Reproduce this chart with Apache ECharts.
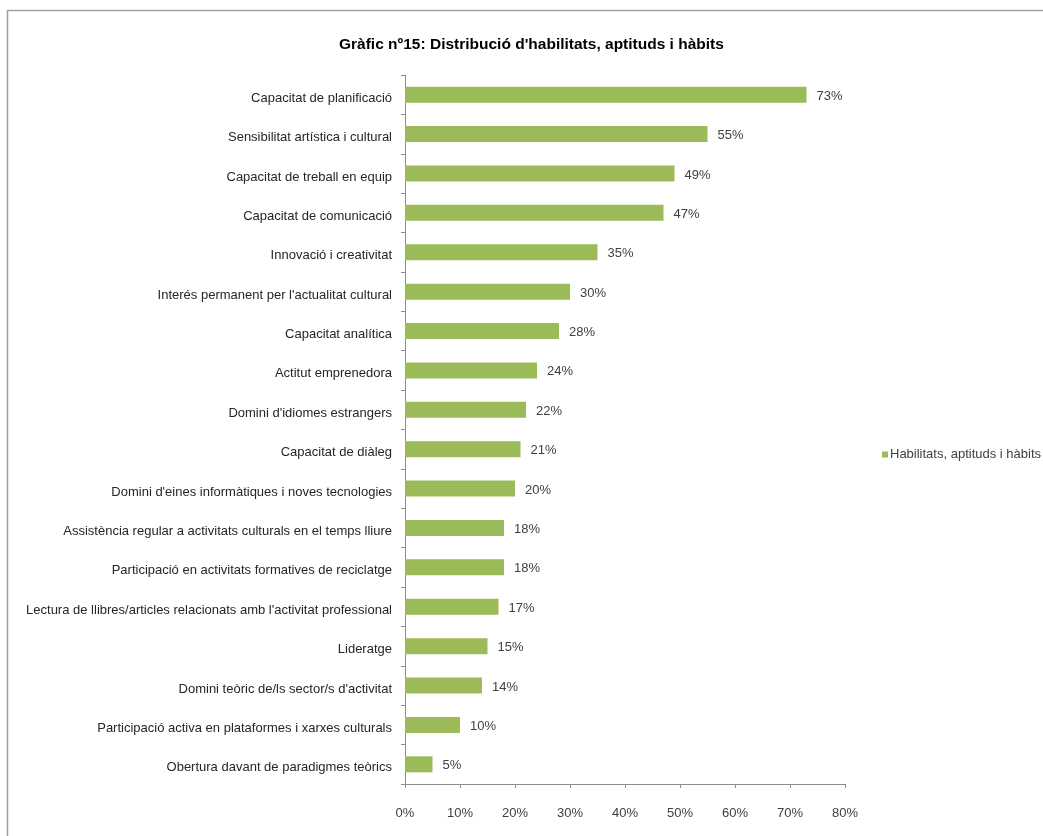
<!DOCTYPE html>
<html><head><meta charset="utf-8">
<script src="https://cdn.jsdelivr.net/npm/echarts@6/dist/echarts.min.js"></script>
<style>html,body{margin:0;padding:0;background:#fff}#c{width:1043px;height:836px}</style>
</head><body><div id="c"></div>
<script>
const categories = [
"Capacitat de planificació",
"Sensibilitat artística i cultural",
"Capacitat de treball en equip",
"Capacitat de comunicació",
"Innovació i creativitat",
"Interés permanent per l'actualitat cultural",
"Capacitat analítica",
"Actitut emprenedora",
"Domini d'idiomes estrangers",
"Capacitat de diàleg",
"Domini d'eines informàtiques i noves tecnologies",
"Assistència regular a activitats culturals en el temps lliure",
"Participació en activitats formatives de reciclatge",
"Lectura de llibres/articles relacionats amb l'activitat professional",
"Lideratge",
"Domini teòric de/ls sector/s d'activitat",
"Participació activa en plataformes i xarxes culturals",
"Obertura davant de paradigmes teòrics"
];
const values = [73,55,49,47,35,30,28,24,22,21,20,18,18,17,15,14,10,5];
const seriesName = "Habilitats, aptituds i hàbits";
const titleText = "Gràfic nº15: Distribució d'habilitats, aptituds i hàbits";

const chart = echarts.init(document.getElementById('c'), null, {renderer:'canvas'});
const font = "'Liberation Sans', Arial, sans-serif";
chart.setOption({
  animation:false,
  backgroundColor:'#fff',
  textStyle:{fontFamily:font},
  graphic:[{type:'rect',shape:{x:7.5,y:10.5,width:1050,height:840},style:{fill:'none',stroke:'#a0a0a0',lineWidth:1.5},silent:true}],
  title:{text:titleText,left:334,top:32,itemGap:0,textStyle:{fontFamily:font,fontSize:15.5,fontWeight:'bold',color:'#000'}},
  legend:{orient:'vertical',left:877,top:443,itemWidth:6,itemHeight:6,itemGap:4,icon:'rect',
    textStyle:{fontFamily:font,fontSize:13,color:'#404040',padding:[0,0,0,-3]},data:[seriesName]},
  grid:{left:405,right:198,top:75,bottom:52,containLabel:false},
  xAxis:{type:'value',min:0,max:80,interval:10,
    axisLine:{show:true,lineStyle:{color:'#8c8c8c'}},
    axisTick:{show:true,length:4,lineStyle:{color:'#8c8c8c'}},
    splitLine:{show:false},
    axisLabel:{formatter:'{value}%',fontFamily:font,fontSize:13,color:'#404040',margin:23}},
  yAxis:{type:'category',data:categories,inverse:true,
    axisLine:{show:true,lineStyle:{color:'#8c8c8c'}},
    axisTick:{show:true,length:4,lineStyle:{color:'#8c8c8c'}},
    axisLabel:{fontFamily:font,fontSize:13,color:'#262626',margin:13,
      formatter:v=>'{a|'+v+'}',
      rich:{a:{fontFamily:font,fontSize:13,color:'#262626',padding:[7,0,0,0]}}}},
  series:[{name:seriesName,type:'bar',data:values,barWidth:16,
    itemStyle:{color:'#9bbb59'},
    label:{show:true,position:'right',distance:10,formatter:'{v|{c}%}',
      rich:{v:{fontFamily:font,fontSize:13,color:'#404040',padding:[3,0,0,0]}}}}]
});
</script></body></html>
